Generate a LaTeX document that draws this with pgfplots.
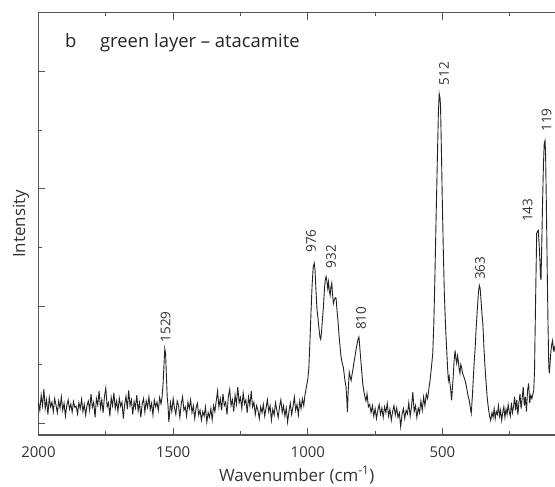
\documentclass[border=0pt]{standalone}
\usepackage{fontspec}
\setmainfont{Open Sans}
\usepackage{pgfplots}
\pgfplotsset{compat=1.18}
\definecolor{axisgray}{HTML}{555555}
\definecolor{trace}{HTML}{222222}

\newcommand{\tfont}{\fontsize{15}{17}\selectfont}
\newcommand{\lfont}{\fontsize{17}{19}\selectfont}
\newcommand{\hfont}{\fontsize{18.5}{21}\selectfont}
\newcommand{\pfont}{\fontsize{13.5}{15}\selectfont}

\begin{document}
\begin{tikzpicture}[x=1bp,y=1bp]
\useasboundingbox (-38.5,-52) rectangle (516.5,435);
\begin{axis}[
    at={(0,0)}, anchor=south west,
    scale only axis,
    width=516.5bp, height=422.3bp,
    x dir=reverse,
    xmin=82, xmax=2000,
    ymin=-0.2, ymax=7.0,
    axis x line*=box, axis y line*=left,
    axis line style={axisgray, line width=1.2bp},
    every tick/.style={axisgray, line width=0.9bp},
    tick align=inside,
    major tick length=7bp, minor tick length=3.5bp,
    xtick={500,1000,1500,2000},
    minor xtick={250,750,1250,1750},
    ytick={0,2,4,6}, minor ytick={1,3,5},
    yticklabels={},
    /pgf/number format/1000 sep={},
    /pgf/number format/assume math mode=true,
    ticklabel style={font=\tfont, text=black!80},
    xticklabel style={yshift=-8bp},
    label style={font=\lfont, text=black!80},
    xlabel style={yshift=-2bp},
    ylabel style={yshift=-1bp},
    xlabel={Wavenumber (cm\textsuperscript{-1})},
    ylabel={Intensity},
    clip=false,
  ]
  \addplot[trace, line width=0.9bp] coordinates {
    (2000,0.35) (1995,0.22) (1990,0.48) (1985,0.30) (1980,0.58) (1975,0.25) (1970,0.40) (1965,0.15)
    (1960,0.44) (1955,0.28) (1950,0.36) (1945,0.20) (1940,0.42) (1935,0.31) (1930,0.18) (1925,0.38)
    (1920,0.26) (1915,0.45) (1910,0.22) (1905,0.34) (1900,0.12) (1895,0.30) (1890,0.40) (1885,0.24)
    (1880,0.33) (1875,0.19) (1870,0.37) (1865,0.27) (1860,0.29) (1855,0.16) (1850,0.35) (1845,0.25)
    (1840,0.41) (1835,0.20) (1830,0.32) (1825,0.14) (1820,0.30) (1815,0.38) (1810,0.22) (1805,0.50)
    (1800,0.27) (1795,0.36) (1790,0.10) (1785,0.42) (1780,0.31) (1775,0.55) (1770,0.26) (1765,0.40)
    (1760,0.18) (1755,0.46) (1750,0.60) (1745,0.28) (1740,0.35) (1735,0.12) (1730,0.44) (1725,0.30)
    (1720,0.52) (1715,0.25) (1710,0.38) (1705,0.20) (1700,0.43) (1695,0.29) (1690,0.36) (1685,0.08)
    (1680,0.32) (1675,0.46) (1670,0.24) (1665,0.56) (1660,0.30) (1655,0.40) (1650,0.15) (1645,0.37)
    (1640,0.26) (1635,0.48) (1630,0.21) (1625,0.35) (1620,0.10) (1615,0.33) (1610,0.42) (1605,0.19)
    (1600,0.38) (1595,0.27) (1590,0.45) (1585,0.23) (1580,0.34) (1575,0.14) (1570,0.40) (1565,0.28)
    (1560,0.36) (1555,0.22) (1550,0.44) (1545,0.33)
    (1541,0.45) (1537,0.70) (1534,1.00) (1531,1.27) (1528,1.18) (1525,0.80) (1522,0.45) (1519,0.30)
    (1516,0.02)
    (1510,0.35) (1505,0.20) (1500,0.42) (1495,0.26) (1490,0.15) (1485,0.38) (1480,0.30) (1475,0.10)
    (1470,0.33) (1465,0.45) (1460,0.22) (1455,0.28) (1450,0.12) (1445,0.36) (1440,0.25) (1435,0.40)
    (1430,0.18) (1425,0.30) (1420,0.08) (1415,0.26) (1410,0.34) (1405,0.14) (1400,0.22) (1395,0.05)
    (1390,0.20) (1385,0.12) (1380,0.28) (1375,0.02) (1370,0.18) (1365,0.10) (1360,0.25) (1355,0.06)
    (1350,0.30) (1345,0.20) (1340,0.38) (1335,0.55) (1330,0.28) (1325,0.42) (1320,0.22) (1315,0.50)
    (1310,0.30) (1305,0.36) (1300,0.15) (1295,0.45) (1290,0.58) (1285,0.30) (1280,0.40) (1275,0.20)
    (1270,0.48) (1265,0.32) (1260,0.62) (1255,0.35) (1250,0.44) (1245,0.25) (1240,0.52) (1235,0.33)
    (1230,0.40) (1225,0.18) (1220,0.45) (1215,0.30) (1210,0.55) (1205,0.28) (1200,0.36) (1195,0.15)
    (1190,0.30) (1185,0.22) (1180,0.08) (1175,0.28) (1170,0.18) (1165,0.32) (1160,0.12) (1155,0.26)
    (1150,0.40) (1145,0.20) (1140,0.30) (1135,0.05) (1130,0.24) (1125,0.14) (1120,0.35) (1115,0.22)
    (1110,0.10) (1105,0.28) (1100,0.40) (1095,0.18) (1090,0.30) (1085,0.12) (1080,0.26) (1075,0.02)
    (1070,0.20) (1065,0.34) (1060,0.15) (1055,0.28) (1050,0.45) (1045,0.22) (1040,0.32) (1035,0.14)
    (1030,0.38) (1025,0.25) (1020,0.42) (1015,0.30) (1010,0.50) (1005,0.62)
    (1000,0.75) (996,0.95) (992,1.40) (988,1.90) (984,2.35) (980,2.66) (976,2.73) (973,2.60)
    (970,2.30) (966,1.95) (962,1.78) (958,1.60) (955,1.47) (952,1.43) (949,1.55) (946,1.75)
    (942,1.98) (938,2.30) (935,2.45) (932,2.50) (929,2.42) (926,2.30) (923,2.41) (920,2.25)
    (917,2.18) (914,2.32) (911,2.39) (908,2.20) (905,2.04) (902,2.10) (898,2.14) (895,2.13)
    (891,1.90) (887,1.70) (884,1.50) (880,1.30) (877,1.15) (874,1.07) (871,1.00) (868,0.96)
    (864,0.80) (861,0.70) (858,0.62) (855,0.40) (853,0.19) (850,0.55) (846,0.87) (842,0.78)
    (839,0.73) (835,0.85) (831,0.96) (828,1.05) (825,1.13) (821,1.25) (817,1.35) (813,1.44)
    (810,1.47) (807,1.30) (804,1.13) (800,0.90) (796,0.68) (792,0.55) (788,0.45) (784,0.38)
    (780,0.50) (775,0.28) (770,0.32)
    (765,0.18) (760,0.30) (755,0.12) (750,0.25) (745,0.08) (740,0.22) (735,0.32) (730,0.15)
    (725,0.26) (720,0.10) (715,0.28) (710,0.18) (705,0.34) (700,0.12) (695,0.24) (690,0.05)
    (685,0.20) (680,0.30) (675,0.14) (670,0.26) (665,0.10) (660,0.18) (655,-0.06) (650,0.15)
    (645,0.25) (640,0.08) (635,0.22) (630,0.16) (625,0.35) (620,0.12) (615,0.28) (610,0.53)
    (605,0.20) (600,0.30) (595,0.10) (590,0.26) (585,0.18) (580,0.38) (575,0.22) (570,0.45)
    (565,0.30) (560,0.50) (555,0.42) (550,0.60)
    (546,0.73) (541,0.95) (536,1.19) (532,1.70) (528,2.49) (524,3.40) (519,4.48) (515,5.30)
    (512,5.62) (509,5.55) (507,5.39) (504,4.70) (501,3.92) (497,3.00) (493,2.22) (488,1.60)
    (484,1.24) (481,0.95) (478,0.73) (475,0.80) (472,0.68) (469,0.55) (466,0.39) (463,0.60)
    (460,0.79) (457,1.05) (453,1.24) (450,1.10) (447,1.02) (444,1.15) (441,1.07) (438,0.92)
    (435,0.85) (432,1.00) (429,0.96) (425,0.85) (421,0.80) (416,0.73) (412,0.65) (408,0.55)
    (404,0.45) (400,0.38) (396,0.25) (393,0.17) (389,0.45) (385,0.80) (382,1.05) (379,1.24)
    (375,1.60) (370,1.98) (366,2.25) (363,2.35) (360,2.30) (356,2.05) (353,1.85) (350,1.70)
    (346,1.30) (342,0.96) (338,0.70) (334,0.45) (330,0.28) (325,0.12) (321,0.05) (316,0.18)
    (312,0.10) (308,0.25) (304,0.08) (300,0.20) (296,0.15) (292,0.30) (288,0.12) (284,0.22)
    (280,0.05) (276,0.18) (272,0.28) (268,0.10) (264,0.24) (260,0.15) (256,0.32) (252,0.20)
    (248,0.12) (244,0.35) (240,0.18) (236,0.28) (232,0.45) (228,0.22) (224,0.40) (220,0.15)
    (216,0.35) (212,0.50) (208,0.25) (204,0.42) (200,0.62) (196,0.30) (192,0.45) (188,0.20)
    (184,0.55) (180,0.68) (176,0.35) (172,0.48) (168,0.42) (164,0.50) (161,0.56) (158,0.90)
    (156,1.53) (153,2.40) (150,3.24) (147,3.27) (144,3.29) (141,3.05) (138,2.78) (136,2.50)
    (134,2.44) (131,3.10) (128,3.80) (125,4.40) (122,4.77) (119,4.82) (117,4.60) (114,3.70)
    (111,2.66) (108,1.70) (105,0.95) (103,0.85) (100,1.05) (97,1.24) (94,1.35) (91,1.41)
    (88,1.25) (85,1.30) (82,1.22)
  };
  % peak labels
  \begin{scope}[every node/.style={rotate=90, anchor=west, inner sep=0pt, font=\pfont, text=black!80}]
    \node at (axis cs:1528,1.38) {1529};
    \node at (axis cs:988,2.91) {976};
    \node at (axis cs:914,2.64) {932};
    \node at (axis cs:802,1.59) {810};
    \node at (axis cs:494,5.76) {512};
    \node at (axis cs:360,2.44) {363};
    \node at (axis cs:184,3.43) {143};
    \node at (axis cs:113,4.97) {119};
  \end{scope}
  \node[anchor=base west, inner sep=0pt, font=\hfont, text=black!85] at (axis cs:1902,6.41) {b};
  \node[anchor=base west, inner sep=0pt, font=\hfont, text=black!85] at (axis cs:1772,6.41) {green layer – atacamite};
\end{axis}
\end{tikzpicture}
\end{document}
